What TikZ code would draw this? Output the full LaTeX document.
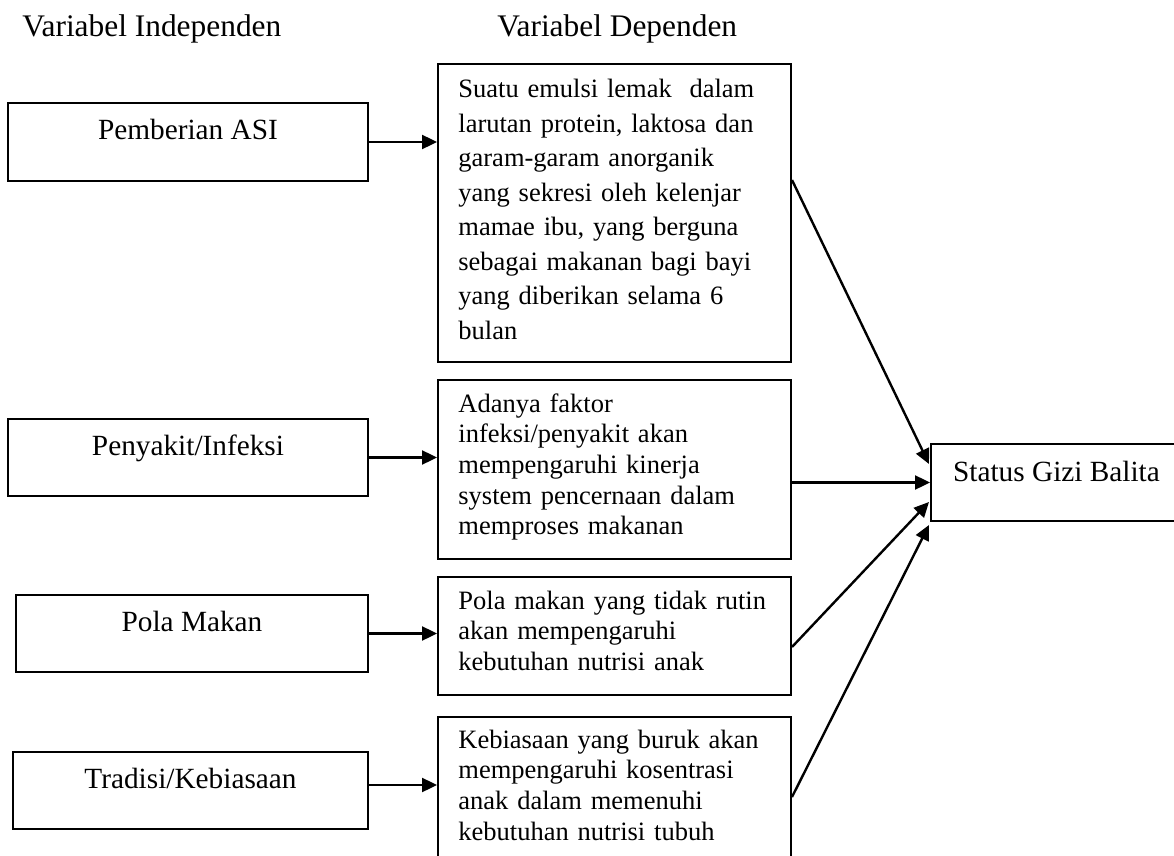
\documentclass[tikz,border=0pt]{standalone}
\usepackage{fontspec}
\setmainfont{Liberation Serif}
\usetikzlibrary{fit,calc,arrows.meta}
\begin{document}
\begin{tikzpicture}[x=0.5pt,y=-0.5pt,
  box/.style={draw, line width=1pt, inner sep=0pt},
  head/.style={font=\fontsize{15.7pt}{18pt}\selectfont, inner sep=0pt, anchor=base west},
  big/.style={font=\fontsize{14.65pt}{17pt}\selectfont, inner sep=0pt, anchor=base},
  desc/.style={font=\fontsize{13.25pt}{15.35pt}\selectfont, inner sep=0pt, anchor=base west, text width=170pt, align=left},
  descwide/.style={desc, font=\fontsize{13.25pt}{17.25pt}\selectfont},
  arr/.style={line width=1.2pt, -{Triangle[length=7.5pt,width=7pt]}}]
\useasboundingbox (0,0) rectangle (1174,856);
\fill[white] (0,0) rectangle (1174,856);
\clip (0,0) rectangle (1174,856);

% headers
\node[head] (h1) at (22,37) {Variabel Independen};
\node[head] (h2) at (497,37) {Variabel Dependen};

% independent boxes
\node[box, fit={(8,103) (368,181)}] (b1) {};
\node[box, fit={(8,419) (368,496)}] (b2) {};
\node[box, fit={(16,595) (368,672)}] (b3) {};
\node[box, fit={(13,752) (368,829)}] (b4) {};
\node[big] (t1) at ($(b1.north)+(0,37.5)$) {Pemberian ASI};
\node[big] (t2) at ($(b2.north)+(0,37.5)$) {Penyakit/Infeksi};
\node[big] (t3) at ($(b3.north)+(0,37.5)$) {Pola Makan};
\node[big] (t4) at ($(b4.north)+(0,37.5)$) {Tradisi/Kebiasaan};

% dependent boxes
\node[box, fit={(438,64) (791,362)}] (m1) {};
\node[box, fit={(438,380) (791,559)}] (m2) {};
\node[box, fit={(438,577) (791,695)}] (m3) {};
\node[box, fit={(438,717) (791,880)}] (m4) {};
\node[descwide] (d1) at ($(m1.north west)+(21,35)$) {Suatu emulsi lemak\ \ dalam\\larutan protein, laktosa dan\\garam-garam anorganik\\yang sekresi oleh kelenjar\\mamae ibu, yang berguna\\sebagai makanan bagi bayi\\yang diberikan selama 6\\bulan};
\node[desc] (d2) at ($(m2.north west)+(21,33)$) {Adanya faktor\\infeksi/penyakit akan\\mempengaruhi kinerja\\system pencernaan dalam\\memproses makanan};
\node[desc] (d3) at ($(m3.north west)+(21,33)$) {Pola makan yang tidak rutin\\akan mempengaruhi\\kebutuhan nutrisi anak};
\node[desc] (d4) at ($(m4.north west)+(21,32)$) {Kebiasaan yang buruk akan\\mempengaruhi kosentrasi\\anak dalam memenuhi\\kebutuhan nutrisi tubuh};

% status
\node[box, fit={(931,444) (1190,521)}] (s) {};
\node[big] (st) at ($(s.north west)+(126.5,38)$) {Status Gizi Balita};

% arrows left -> middle
\draw[arr] (b1.east) -- (b1.east -| m1.west);
\draw[arr] (b2.east) -- (b2.east -| m2.west);
\draw[arr] (b3.east) -- (b3.east -| m3.west);
\draw[arr] ($(b4.east)+(0,-5.5)$) -- ($(b4.east -| m4.west)+(0,-5.5)$);

% arrows middle -> status
\draw[arr] ($(m1.north east)+(0,117)$) -- ($(s.north west)+(-1,21)$);
\draw[arr] (m2.east |- s.west) -- (s.west);
\draw[arr] ($(m3.north east)+(0,71)$) -- ($(s.south west)+(-1,-20)$);
\draw[arr] ($(m4.north east)+(0,81)$) -- ($(s.south west)+(-1,3)$);
\end{tikzpicture}
\end{document}
